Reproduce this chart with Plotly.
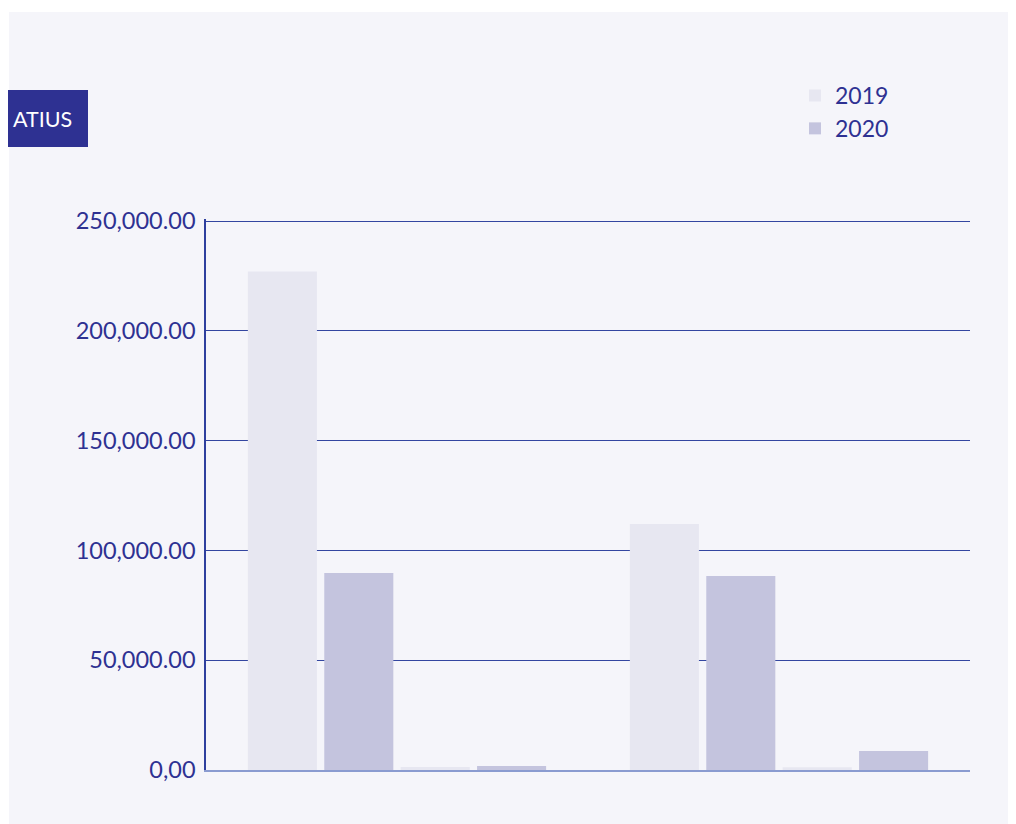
import plotly.graph_objects as go

categories = ["Group 1", "Group 2"]
series_2019 = [227000, 112000]
series_2020 = [89700, 88300]
series_2019_b = [1400, 1300]
series_2020_b = [1800, 8600]
tick_vals = [0, 50000, 100000, 150000, 200000, 250000]
tick_text = ["0,00", "50,000.00", "100,000.00", "150,000.00", "200,000.00", "250,000.00"]
label_text = "ATIUS"

OFF = 8  # page body margin
W, H = 1016 - OFF, 824 - OFF
# plot area in page pixels (top extended 2px so the top gridline is kept)
PX0, PX1, PY0, PY1 = 206, 970, 219, 770
L, R, T, B = PX0 - OFF, W - (PX1 - OFF), PY0 - OFF, H - (PY1 - OFF)
pw, ph = PX1 - PX0, PY1 - PY0
y_top = 250000 * ph / (PY1 - 221)

def px_x(p):
    return (p - PX0) / pw

def px_y(p):
    return (PY1 - p) / ph

c2019 = "#e7e7f1"
c2020 = "#c4c4de"
blue = "#2e3192"
font = "Lato"

fig = go.Figure()
fig.add_trace(go.Bar(x=categories, y=series_2019, name="2019", marker=dict(color=c2019, line=dict(width=0))))
fig.add_trace(go.Bar(x=categories, y=series_2020, name="2020", marker=dict(color=c2020, line=dict(width=0))))
fig.add_trace(go.Bar(x=categories, y=series_2019_b, name="2019", showlegend=False, marker=dict(color=c2019, line=dict(width=0))))
fig.add_trace(go.Bar(x=categories, y=series_2020_b, name="2020", showlegend=False, marker=dict(color=c2020, line=dict(width=0))))

fig.update_layout(
    width=W, height=H,
    margin=dict(l=L, r=R, t=T, b=B, autoexpand=False),
    paper_bgcolor="white",
    plot_bgcolor="rgba(0,0,0,0)",
    barmode="group", bargap=0.2, bargroupgap=0.096,
    font=dict(family=font, color=blue, size=23),
    legend=dict(x=px_x(795), y=px_y(74), xanchor="left", yanchor="top",
                bgcolor="rgba(0,0,0,0)", font=dict(size=23, color=blue, family=font),
                tracegroupgap=0, itemwidth=30),
    showlegend=True,
)
fig.update_xaxes(showticklabels=False, showgrid=False, zeroline=False,
                 showline=True, linecolor="#8a9bd0", linewidth=2, ticks="")
fig.update_yaxes(range=[0, y_top], tickvals=tick_vals, ticktext=tick_text,
                 showgrid=True, gridcolor="#3346a0", gridwidth=1,
                 zeroline=False, showline=True, linecolor="#2e3f9e", linewidth=1.5,
                 ticks="", ticklabelstandoff=4,
                 tickfont=dict(size=23.5, color=blue, family=font))

# light panel background
fig.add_shape(type="rect", xref="paper", yref="paper",
              x0=px_x(9), x1=px_x(1030), y0=px_y(840), y1=px_y(12),
              fillcolor="#f5f5fa", line=dict(width=0), layer="below")
# dark label box
fig.add_shape(type="rect", xref="paper", yref="paper",
              x0=px_x(0), x1=px_x(88), y0=px_y(147), y1=px_y(90),
              fillcolor=blue, line=dict(width=0), layer="above")
fig.add_annotation(text=label_text, xref="paper", yref="paper",
                   x=px_x(11), y=px_y(118.5), xanchor="left", yanchor="middle",
                   showarrow=False, font=dict(size=21.5, color="white", family=font))

fig.write_html("out.html")
